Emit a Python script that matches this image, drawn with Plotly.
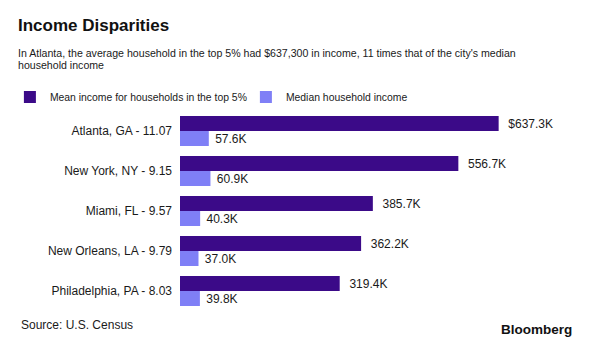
import plotly.graph_objects as go

# Data
cities = ["Atlanta, GA - 11.07", "New York, NY - 9.15", "Miami, FL - 9.57",
          "New Orleans, LA - 9.79", "Philadelphia, PA - 8.03"]
top5_mean = [637.3, 556.7, 385.7, 362.2, 319.4]      # thousands of dollars
median_income = [57.6, 60.9, 40.3, 37.0, 39.8]       # thousands of dollars

top5_labels = ["$637.3K", "556.7K", "385.7K", "362.2K", "319.4K"]
median_labels = ["57.6K", "60.9K", "40.3K", "37.0K", "39.8K"]

DARK = "#3b0a88"
LIGHT = "#7f7ff6"
FONT = "Liberation Sans, Arial, sans-serif"
NB = "\u00a0"

fig = go.Figure()
fig.add_trace(go.Bar(
    y=cities, x=top5_mean, orientation="h", name="Mean income for households in the top 5%",
    marker=dict(color=DARK, line=dict(width=0)),
    text=[NB * 2 + t for t in top5_labels], textposition="outside",
    textfont=dict(size=12, color="#1a1a1a", family=FONT),
    constraintext="none", cliponaxis=False, hoverinfo="skip",
))
fig.add_trace(go.Bar(
    y=cities, x=median_income, orientation="h", name="Median household income",
    marker=dict(color=LIGHT, line=dict(width=0)),
    text=[NB + t for t in median_labels], textposition="outside",
    textfont=dict(size=12, color="#1a1a1a", family=FONT),
    constraintext="none", cliponaxis=False, hoverinfo="skip",
))

fig.update_layout(
    width=600, height=346,
    margin=dict(l=180, r=0, t=111, b=35),
    paper_bgcolor="white", plot_bgcolor="white",
    barmode="group", bargap=0.25, bargroupgap=0,
    font=dict(family=FONT, size=12, color="#1a1a1a"),
    xaxis=dict(range=[0, 840], visible=False, fixedrange=True),
    yaxis=dict(autorange="reversed", showgrid=False, zeroline=False, showline=False,
               ticks="", ticklabelstandoff=7, tickfont=dict(size=12, color="#1a1a1a")),
    showlegend=True,
    legend=dict(orientation="h", x=-0.405, xanchor="left", y=1.07, yanchor="middle",
                font=dict(size=10.4, color="#1a1a1a"), traceorder="normal",
                entrywidth=191, entrywidthmode="pixels", bgcolor="rgba(0,0,0,0)"),
    annotations=[
        dict(text="<b>Income Disparities</b>", xref="paper", yref="paper",
             x=-164 / 420, y=(311 - 25) / 200, xanchor="left", yanchor="middle",
             showarrow=False, font=dict(size=17, color="#111111", family=FONT)),
        dict(text="In Atlanta, the average household in the top 5% had $637,300 in income, "
                  "11 times that of the city's median", xref="paper", yref="paper",
             x=-164 / 420, y=(311 - 53.5) / 200, xanchor="left", yanchor="middle",
             showarrow=False, font=dict(size=10.6, color="#1a1a1a", family=FONT)),
        dict(text="household income", xref="paper", yref="paper",
             x=-164 / 420, y=(311 - 65) / 200, xanchor="left", yanchor="middle",
             showarrow=False, font=dict(size=10.6, color="#1a1a1a", family=FONT)),
        dict(text="Source: U.S. Census", xref="paper", yref="paper",
             x=-161 / 420, y=(311 - 325) / 200, xanchor="left", yanchor="middle",
             showarrow=False, font=dict(size=12, color="#1a1a1a", family=FONT)),
        dict(text="<b>Bloomberg</b>", xref="paper", yref="paper",
             x=(499 - 180) / 420, y=(311 - 329) / 200, xanchor="left", yanchor="middle",
             showarrow=False, font=dict(size=13.5, color="#111111", family=FONT)),
    ],
)

fig.write_html("out.html")
